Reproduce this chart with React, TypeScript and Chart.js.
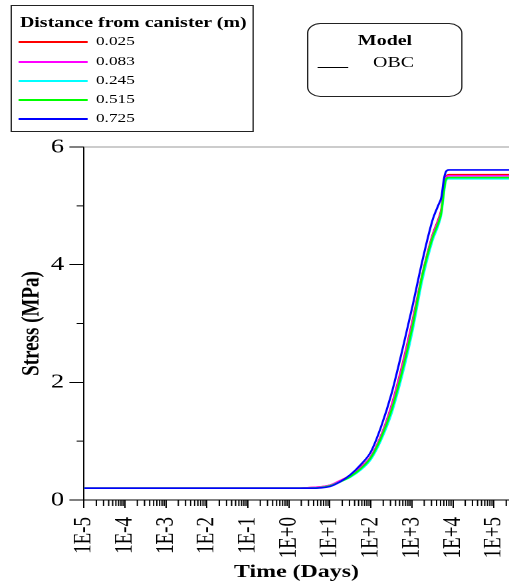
import { useEffect, useRef } from 'react';
import { Chart, registerables } from 'chart.js';

Chart.register(...registerables);

// Sampling times (days) shared by every curve
const timeDays = [
  1e-5, 1e-4, 1e-3, 1e-2, 1e-1, 1, 3.16, 10, 17.8, 31.6, 56.2, 100, 178, 316, 562,
  1000, 1778, 3162, 4467, 5248, 6026, 6761, 7943, 10000, 31623, 100000, 234000,
];

// Stress (MPa) at each distance from the canister
const stress0025 = [0.2, 0.2, 0.2, 0.2, 0.2, 0.2, 0.21, 0.25, 0.33, 0.42, 0.56, 0.74, 1.1, 1.6, 2.25, 3.0, 3.82, 4.5, 4.78, 4.95, 5.3, 5.48, 5.53, 5.53, 5.53, 5.53, 5.53];
const stress0083 = [0.2, 0.2, 0.2, 0.2, 0.2, 0.2, 0.21, 0.25, 0.33, 0.41, 0.55, 0.74, 1.09, 1.58, 2.22, 2.97, 3.8, 4.48, 4.76, 4.93, 5.28, 5.47, 5.51, 5.51, 5.51, 5.51, 5.51];
const stress0245 = [0.2, 0.2, 0.2, 0.2, 0.2, 0.2, 0.2, 0.24, 0.31, 0.39, 0.51, 0.69, 1.02, 1.46, 2.08, 2.82, 3.72, 4.4, 4.68, 4.86, 5.2, 5.42, 5.46, 5.46, 5.46, 5.46, 5.46];
const stress0515 = [0.2, 0.2, 0.2, 0.2, 0.2, 0.2, 0.2, 0.24, 0.31, 0.4, 0.53, 0.72, 1.06, 1.52, 2.15, 2.9, 3.8, 4.45, 4.72, 4.9, 5.25, 5.45, 5.48, 5.48, 5.48, 5.48, 5.48];
const stress0725 = [0.2, 0.2, 0.2, 0.2, 0.2, 0.2, 0.2, 0.23, 0.31, 0.43, 0.6, 0.82, 1.25, 1.8, 2.5, 3.25, 4.05, 4.75, 5.02, 5.15, 5.45, 5.58, 5.61, 5.61, 5.61, 5.61, 5.61];

const distanceLabels = ['0.025', '0.083', '0.245', '0.515', '0.725'];
const seriesColors = ['#ff0000', '#ff00ff', '#00ffff', '#00ff00', '#0000ff'];
const seriesValues = [stress0025, stress0083, stress0245, stress0515, stress0725];

// Axis ticks
const xDecades = [1e-5, 1e-4, 1e-3, 1e-2, 1e-1, 1, 10, 100, 1000, 10000, 100000];
const xTickLabels = ['1E-5', '1E-4', '1E-3', '1E-2', '1E-1', '1E+0', '1E+1', '1E+2', '1E+3', '1E+4', '1E+5'];
const xMin = 1e-5;
const xMax = 234000;
const yMajorTicks = [0, 2, 4, 6];
const yMinorTicks = [1, 3, 5];

const modelNames = ['OBC'];

// The figure is laid out on a narrower sheet and stretched horizontally
const W = 383;
const H = 586;
const S = 509 / W;
const SERIF = "'Liberation Serif', 'Times New Roman', serif";

const minorTickPlugin = {
  id: 'minorTicks',
  afterDraw(chart: any) {
    const { ctx, chartArea, scales } = chart;
    const x = scales.x;
    const y = scales.y;
    ctx.save();
    ctx.strokeStyle = '#000';
    ctx.lineWidth = 1;
    ctx.beginPath();
    for (const d of xDecades) {
      for (let k = 2; k <= 9; k++) {
        const v = k * d;
        if (v > x.max) continue;
        const px = x.getPixelForValue(v);
        ctx.moveTo(px, chartArea.bottom);
        ctx.lineTo(px, chartArea.bottom + 6);
      }
    }
    for (const v of yMinorTicks) {
      const py = y.getPixelForValue(v);
      ctx.moveTo(chartArea.left - 5.5, py);
      ctx.lineTo(chartArea.left, py);
    }
    ctx.stroke();
    // light frame line along the top of the plot
    const top = y.getPixelForValue(6);
    ctx.strokeStyle = '#999';
    ctx.beginPath();
    ctx.moveTo(chartArea.left, top);
    ctx.lineTo(chartArea.right, top);
    ctx.stroke();
    ctx.restore();
  },
};

export default function App() {
  const ref = useRef<HTMLCanvasElement>(null);

  useEffect(() => {
    const datasets = seriesValues.map((vals, i) => ({
      label: distanceLabels[i],
      data: timeDays.map((t, j) => ({ x: t, y: vals[j] })),
      borderColor: seriesColors[i],
      backgroundColor: seriesColors[i],
      borderWidth: 1.6,
      pointRadius: 0,
      fill: false,
      cubicInterpolationMode: 'monotone' as const,
      order: seriesValues.length - i,
    }));

    const chart = new Chart(ref.current!, {
      type: 'line',
      data: { datasets },
      plugins: [minorTickPlugin],
      options: {
        animation: false,
        responsive: false,
        devicePixelRatio: 2,
        layout: { padding: { top: 147, left: 0, right: 0, bottom: 0 } },
        plugins: { legend: { display: false }, tooltip: { enabled: false } },
        scales: {
          x: {
            type: 'logarithmic',
            min: xMin,
            max: xMax,
            afterBuildTicks: (s: any) => {
              s.ticks = xDecades.map((v) => ({ value: v }));
            },
            afterFit: (s: any) => {
              s.height = 86;
              s.paddingLeft = 0;
              s.paddingRight = 0;
            },
            ticks: {
              callback: (_v: any, i: number) => xTickLabels[i],
              minRotation: 90,
              maxRotation: 90,
              autoSkip: false,
              padding: 9,
              color: '#000',
              font: { family: SERIF, size: 19 },
            },
            grid: { drawOnChartArea: false, drawTicks: true, tickLength: 8, tickColor: '#000' },
            border: { color: '#000', width: 1 },
            title: {
              display: true,
              text: 'Time (Days)',
              color: '#000',
              font: { family: SERIF, size: 18, weight: 'bold' },
              padding: { top: 0, bottom: 3 },
            },
          },
          y: {
            min: 0,
            max: 6,
            afterBuildTicks: (s: any) => {
              s.ticks = yMajorTicks.map((v) => ({ value: v }));
            },
            afterFit: (s: any) => {
              s.width = 63.2;
              s.paddingTop = 0;
              s.paddingBottom = 0;
            },
            ticks: {
              callback: (v: any) => String(v),
              padding: 4,
              color: '#000',
              font: { family: SERIF, size: 20 },
            },
            grid: { drawOnChartArea: false, drawTicks: true, tickLength: 11, tickColor: '#000' },
            border: { color: '#000', width: 1 },
            title: {
              display: true,
              text: 'Stress (MPa)',
              color: '#000',
              font: { family: SERIF, size: 19, weight: 'bold' },
              padding: { top: 12.6, bottom: 0 },
            },
          },
        },
      } as any,
    });
    return () => chart.destroy();
  }, []);

  const rowY = [41, 61, 80, 99, 118];

  return (
    <div style={{ position: 'fixed', left: 0, top: 0, width: 509, height: 586, overflow: 'hidden', background: '#fff' }}>
      <div
        style={{
          position: 'absolute',
          left: 0,
          top: 0,
          width: W,
          height: H,
          transform: `scaleX(${S})`,
          transformOrigin: '0 0',
          fontFamily: SERIF,
          color: '#000',
        }}
      >
        <canvas ref={ref} width={W} height={H} style={{ position: 'absolute', left: 0, top: 0, width: W, height: H }} />

        {/* distance legend */}
        <div
          style={{
            position: 'absolute',
            left: 7.5,
            top: 5,
            width: 183.5,
            height: 127,
            border: '1px solid #222',
            boxSizing: 'border-box',
            background: '#fff',
          }}
        />
        <div style={{ position: 'absolute', left: 15, top: 14.5, fontSize: 15, lineHeight: '15px', fontWeight: 'bold', whiteSpace: 'nowrap' }}>
          Distance from canister (m)
        </div>
        {distanceLabels.map((lab, i) => (
          <div key={lab}>
            <div
              style={{
                position: 'absolute',
                left: 14.3,
                top: rowY[i],
                width: 52,
                height: 2,
                background: seriesColors[i],
              }}
            />
            <div style={{ position: 'absolute', left: 72.2, top: rowY[i] - 7.5, fontSize: 13, lineHeight: '13px', whiteSpace: 'nowrap' }}>
              {lab}
            </div>
          </div>
        ))}

        {/* model legend */}
        <div
          style={{
            position: 'absolute',
            left: 231,
            top: 23,
            width: 117.4,
            height: 74,
            border: '1px solid #222',
            borderRadius: 10,
            boxSizing: 'border-box',
            background: '#fff',
          }}
        />
        <div style={{ position: 'absolute', left: 231, top: 33, width: 117.4, textAlign: 'center', fontSize: 15, lineHeight: '15px', fontWeight: 'bold' }}>
          Model
        </div>
        {modelNames.map((name, i) => (
          <div key={name}>
            <div style={{ position: 'absolute', left: 238.5, top: 67 + i * 20, width: 23.4, height: 1, background: '#000' }} />
            <div style={{ position: 'absolute', left: 280.7, top: 55 + i * 20, fontSize: 15, lineHeight: '15px', whiteSpace: 'nowrap' }}>
              {name}
            </div>
          </div>
        ))}
      </div>
    </div>
  );
}
